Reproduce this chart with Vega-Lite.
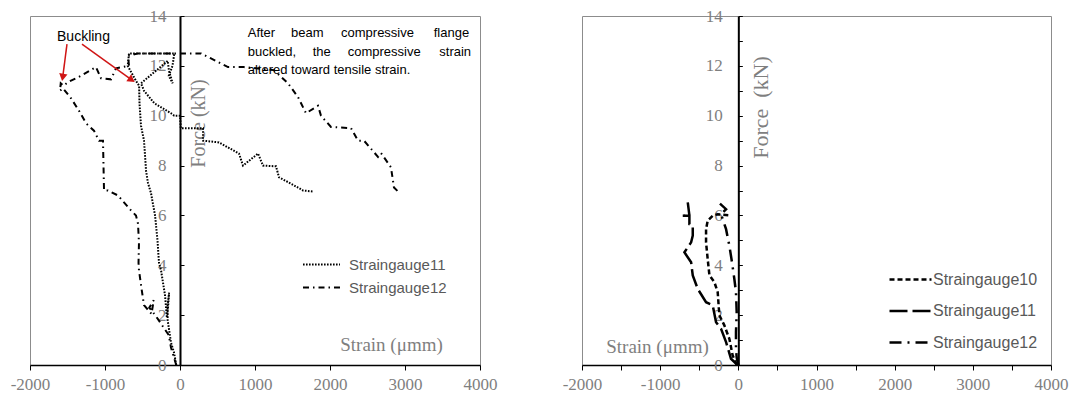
{
  "$schema": "https://vega.github.io/schema/vega-lite/v6.json",
  "background": "white",
  "padding": {"left": 9, "top": 6, "right": 5, "bottom": 5},
  "spacing": 63,
  "config": {
    "view": {"stroke": "#8c8c8c", "strokeWidth": 1},
    "axis": {"grid": false, "labelFont": "Liberation Serif", "labelColor": "#7f7f7f", "labelFontSize": 17, "titleFont": "Liberation Serif", "titleFontWeight": "normal", "titleColor": "#7f7f7f", "tickColor": "black", "domainColor": "black", "labelOverlap": false, "labelFlush": false, "labelBound": false},
    "legend": {"padding": 0, "labelFont": "Liberation Sans", "labelColor": "#595959", "symbolType": "stroke", "symbolStrokeColor": "black", "symbolFillColor": "transparent"}
  },
  "resolve": {"scale": {"strokeDash": "independent"}, "legend": {"strokeDash": "independent"}},
  "datasets": {
    "left": [
      {"gauge": "Straingauge11", "i": 0, "strain": -50, "force": 0},
      {"gauge": "Straingauge11", "i": 1, "strain": -80, "force": 0.5},
      {"gauge": "Straingauge11", "i": 2, "strain": -120, "force": 0.9},
      {"gauge": "Straingauge11", "i": 3, "strain": -145, "force": 1.4},
      {"gauge": "Straingauge11", "i": 4, "strain": -165, "force": 1.8},
      {"gauge": "Straingauge11", "i": 5, "strain": -165, "force": 2.4},
      {"gauge": "Straingauge11", "i": 6, "strain": -145, "force": 2.9},
      {"gauge": "Straingauge11", "i": 7, "strain": -160, "force": 2.3},
      {"gauge": "Straingauge11", "i": 8, "strain": -175, "force": 1.9},
      {"gauge": "Straingauge11", "i": 9, "strain": -200, "force": 2.8},
      {"gauge": "Straingauge11", "i": 10, "strain": -253, "force": 3.8},
      {"gauge": "Straingauge11", "i": 11, "strain": -280, "force": 4.1},
      {"gauge": "Straingauge11", "i": 12, "strain": -300, "force": 5.0},
      {"gauge": "Straingauge11", "i": 13, "strain": -333, "force": 6.0},
      {"gauge": "Straingauge11", "i": 14, "strain": -387, "force": 6.9},
      {"gauge": "Straingauge11", "i": 15, "strain": -427, "force": 7.3},
      {"gauge": "Straingauge11", "i": 16, "strain": -453, "force": 7.8},
      {"gauge": "Straingauge11", "i": 17, "strain": -480, "force": 9.0},
      {"gauge": "Straingauge11", "i": 18, "strain": -520, "force": 9.6},
      {"gauge": "Straingauge11", "i": 19, "strain": -540, "force": 10.5},
      {"gauge": "Straingauge11", "i": 20, "strain": -545, "force": 11.2},
      {"gauge": "Straingauge11", "i": 21, "strain": -587, "force": 11.4},
      {"gauge": "Straingauge11", "i": 22, "strain": -697, "force": 12.0},
      {"gauge": "Straingauge11", "i": 23, "strain": -680, "force": 12.5},
      {"gauge": "Straingauge11", "i": 24, "strain": -150, "force": 12.5},
      {"gauge": "Straingauge11", "i": 25, "strain": -76, "force": 12.5},
      {"gauge": "Straingauge11", "i": 26, "strain": -100, "force": 12.0},
      {"gauge": "Straingauge11", "i": 27, "strain": -150, "force": 11.6},
      {"gauge": "Straingauge11", "i": 28, "strain": -98, "force": 11.3},
      {"gauge": "Straingauge11", "i": 29, "strain": -147, "force": 11.8},
      {"gauge": "Straingauge11", "i": 30, "strain": -164, "force": 12.2},
      {"gauge": "Straingauge11", "i": 31, "strain": -520, "force": 11.3},
      {"gauge": "Straingauge11", "i": 32, "strain": -480, "force": 11.0},
      {"gauge": "Straingauge11", "i": 33, "strain": -342, "force": 10.5},
      {"gauge": "Straingauge11", "i": 34, "strain": -120, "force": 10.1},
      {"gauge": "Straingauge11", "i": 35, "strain": -76, "force": 10.0},
      {"gauge": "Straingauge11", "i": 36, "strain": 0, "force": 10.0},
      {"gauge": "Straingauge11", "i": 37, "strain": 10, "force": 9.5},
      {"gauge": "Straingauge11", "i": 38, "strain": 307, "force": 9.5},
      {"gauge": "Straingauge11", "i": 39, "strain": 307, "force": 9.0},
      {"gauge": "Straingauge11", "i": 40, "strain": 520, "force": 8.93},
      {"gauge": "Straingauge11", "i": 41, "strain": 787, "force": 8.48},
      {"gauge": "Straingauge11", "i": 42, "strain": 840, "force": 8.0},
      {"gauge": "Straingauge11", "i": 43, "strain": 1040, "force": 8.48},
      {"gauge": "Straingauge11", "i": 44, "strain": 1107, "force": 8.0},
      {"gauge": "Straingauge11", "i": 45, "strain": 1280, "force": 7.97},
      {"gauge": "Straingauge11", "i": 46, "strain": 1320, "force": 7.53},
      {"gauge": "Straingauge11", "i": 47, "strain": 1573, "force": 7.12},
      {"gauge": "Straingauge11", "i": 48, "strain": 1640, "force": 7.0},
      {"gauge": "Straingauge11", "i": 49, "strain": 1773, "force": 6.96},
      {"gauge": "Straingauge12", "i": 0, "strain": -50, "force": 0},
      {"gauge": "Straingauge12", "i": 1, "strain": -120, "force": 0.7},
      {"gauge": "Straingauge12", "i": 2, "strain": -150, "force": 1.2},
      {"gauge": "Straingauge12", "i": 3, "strain": -330, "force": 2.0},
      {"gauge": "Straingauge12", "i": 4, "strain": -410, "force": 2.3},
      {"gauge": "Straingauge12", "i": 5, "strain": -350, "force": 2.6},
      {"gauge": "Straingauge12", "i": 6, "strain": -380, "force": 2.05},
      {"gauge": "Straingauge12", "i": 7, "strain": -480, "force": 2.4},
      {"gauge": "Straingauge12", "i": 8, "strain": -510, "force": 3.0},
      {"gauge": "Straingauge12", "i": 9, "strain": -547, "force": 3.8},
      {"gauge": "Straingauge12", "i": 10, "strain": -553, "force": 4.1},
      {"gauge": "Straingauge12", "i": 11, "strain": -547, "force": 4.9},
      {"gauge": "Straingauge12", "i": 12, "strain": -560, "force": 5.67},
      {"gauge": "Straingauge12", "i": 13, "strain": -587, "force": 6.0},
      {"gauge": "Straingauge12", "i": 14, "strain": -653, "force": 6.2},
      {"gauge": "Straingauge12", "i": 15, "strain": -827, "force": 6.8},
      {"gauge": "Straingauge12", "i": 16, "strain": -960, "force": 7.0},
      {"gauge": "Straingauge12", "i": 17, "strain": -1013, "force": 7.0},
      {"gauge": "Straingauge12", "i": 18, "strain": -1027, "force": 9.0},
      {"gauge": "Straingauge12", "i": 19, "strain": -1080, "force": 9.0},
      {"gauge": "Straingauge12", "i": 20, "strain": -1147, "force": 9.4},
      {"gauge": "Straingauge12", "i": 21, "strain": -1253, "force": 9.7},
      {"gauge": "Straingauge12", "i": 22, "strain": -1347, "force": 10.2},
      {"gauge": "Straingauge12", "i": 23, "strain": -1453, "force": 10.7},
      {"gauge": "Straingauge12", "i": 24, "strain": -1560, "force": 11.1},
      {"gauge": "Straingauge12", "i": 25, "strain": -1600, "force": 11.0},
      {"gauge": "Straingauge12", "i": 26, "strain": -1590, "force": 11.3},
      {"gauge": "Straingauge12", "i": 27, "strain": -1550, "force": 11.2},
      {"gauge": "Straingauge12", "i": 28, "strain": -1493, "force": 11.35},
      {"gauge": "Straingauge12", "i": 29, "strain": -1320, "force": 11.6},
      {"gauge": "Straingauge12", "i": 30, "strain": -1120, "force": 11.95},
      {"gauge": "Straingauge12", "i": 31, "strain": -1053, "force": 11.5},
      {"gauge": "Straingauge12", "i": 32, "strain": -920, "force": 11.46},
      {"gauge": "Straingauge12", "i": 33, "strain": -853, "force": 11.9},
      {"gauge": "Straingauge12", "i": 34, "strain": -680, "force": 12.0},
      {"gauge": "Straingauge12", "i": 35, "strain": -693, "force": 12.4},
      {"gauge": "Straingauge12", "i": 36, "strain": -560, "force": 12.5},
      {"gauge": "Straingauge12", "i": 37, "strain": 0, "force": 12.5},
      {"gauge": "Straingauge12", "i": 38, "strain": 280, "force": 12.5},
      {"gauge": "Straingauge12", "i": 39, "strain": 413, "force": 12.3},
      {"gauge": "Straingauge12", "i": 40, "strain": 640, "force": 11.95},
      {"gauge": "Straingauge12", "i": 41, "strain": 853, "force": 11.95},
      {"gauge": "Straingauge12", "i": 42, "strain": 1253, "force": 11.83},
      {"gauge": "Straingauge12", "i": 43, "strain": 1440, "force": 11.3},
      {"gauge": "Straingauge12", "i": 44, "strain": 1573, "force": 10.75},
      {"gauge": "Straingauge12", "i": 45, "strain": 1680, "force": 10.1},
      {"gauge": "Straingauge12", "i": 46, "strain": 1840, "force": 10.4},
      {"gauge": "Straingauge12", "i": 47, "strain": 1880, "force": 10.0},
      {"gauge": "Straingauge12", "i": 48, "strain": 2013, "force": 9.55},
      {"gauge": "Straingauge12", "i": 49, "strain": 2280, "force": 9.5},
      {"gauge": "Straingauge12", "i": 50, "strain": 2373, "force": 9.0},
      {"gauge": "Straingauge12", "i": 51, "strain": 2453, "force": 9.0},
      {"gauge": "Straingauge12", "i": 52, "strain": 2640, "force": 8.35},
      {"gauge": "Straingauge12", "i": 53, "strain": 2680, "force": 8.5},
      {"gauge": "Straingauge12", "i": 54, "strain": 2813, "force": 7.93},
      {"gauge": "Straingauge12", "i": 55, "strain": 2853, "force": 7.12},
      {"gauge": "Straingauge12", "i": 56, "strain": 2907, "force": 6.96}
    ],
    "right": [
      {"gauge": "Straingauge10", "i": 0, "strain": -20, "force": 0},
      {"gauge": "Straingauge10", "i": 1, "strain": -73, "force": 0.39},
      {"gauge": "Straingauge10", "i": 2, "strain": -115, "force": 1.05},
      {"gauge": "Straingauge10", "i": 3, "strain": -179, "force": 1.59},
      {"gauge": "Straingauge10", "i": 4, "strain": -243, "force": 2.0},
      {"gauge": "Straingauge10", "i": 5, "strain": -264, "force": 2.92},
      {"gauge": "Straingauge10", "i": 6, "strain": -306, "force": 3.32},
      {"gauge": "Straingauge10", "i": 7, "strain": -370, "force": 3.6},
      {"gauge": "Straingauge10", "i": 8, "strain": -392, "force": 4.25},
      {"gauge": "Straingauge10", "i": 9, "strain": -413, "force": 4.92},
      {"gauge": "Straingauge10", "i": 10, "strain": -413, "force": 5.45},
      {"gauge": "Straingauge10", "i": 11, "strain": -392, "force": 5.79},
      {"gauge": "Straingauge10", "i": 12, "strain": -328, "force": 5.99},
      {"gauge": "Straingauge10", "i": 13, "strain": -264, "force": 6.05},
      {"gauge": "Straingauge10", "i": 14, "strain": -94, "force": 6.0},
      {"gauge": "Straingauge11", "i": 0, "strain": -10, "force": 0},
      {"gauge": "Straingauge11", "i": 1, "strain": -94, "force": 0.25},
      {"gauge": "Straingauge11", "i": 2, "strain": -157, "force": 0.92},
      {"gauge": "Straingauge11", "i": 3, "strain": -221, "force": 1.45},
      {"gauge": "Straingauge11", "i": 4, "strain": -285, "force": 1.72},
      {"gauge": "Straingauge11", "i": 5, "strain": -328, "force": 2.4},
      {"gauge": "Straingauge11", "i": 6, "strain": -413, "force": 2.52},
      {"gauge": "Straingauge11", "i": 7, "strain": -519, "force": 3.05},
      {"gauge": "Straingauge11", "i": 8, "strain": -583, "force": 3.59},
      {"gauge": "Straingauge11", "i": 9, "strain": -604, "force": 4.12},
      {"gauge": "Straingauge11", "i": 10, "strain": -690, "force": 4.52},
      {"gauge": "Straingauge11", "i": 11, "strain": -604, "force": 4.92},
      {"gauge": "Straingauge11", "i": 12, "strain": -583, "force": 5.19},
      {"gauge": "Straingauge11", "i": 13, "strain": -583, "force": 5.59},
      {"gauge": "Straingauge11", "i": 14, "strain": -626, "force": 5.65},
      {"gauge": "Straingauge11", "i": 15, "strain": -626, "force": 5.99},
      {"gauge": "Straingauge11", "i": 16, "strain": -711, "force": 5.99},
      {"gauge": "Straingauge11", "i": 17, "strain": -626, "force": 6.0},
      {"gauge": "Straingauge11", "i": 18, "strain": -647, "force": 6.52},
      {"gauge": "Straingauge12", "i": 0, "strain": 0, "force": 0},
      {"gauge": "Straingauge12", "i": 1, "strain": -21, "force": 0.3},
      {"gauge": "Straingauge12", "i": 2, "strain": -30, "force": 0.65},
      {"gauge": "Straingauge12", "i": 3, "strain": -30, "force": 1.32},
      {"gauge": "Straingauge12", "i": 4, "strain": -21, "force": 2.12},
      {"gauge": "Straingauge12", "i": 5, "strain": -30, "force": 2.92},
      {"gauge": "Straingauge12", "i": 6, "strain": -51, "force": 3.45},
      {"gauge": "Straingauge12", "i": 7, "strain": -81, "force": 4.12},
      {"gauge": "Straingauge12", "i": 8, "strain": -115, "force": 4.79},
      {"gauge": "Straingauge12", "i": 9, "strain": -157, "force": 5.45},
      {"gauge": "Straingauge12", "i": 10, "strain": -221, "force": 6.05},
      {"gauge": "Straingauge12", "i": 11, "strain": -157, "force": 6.25},
      {"gauge": "Straingauge12", "i": 12, "strain": -251, "force": 6.52}
    ],
    "notes": [
      {"group": "buckling", "text": "Buckling", "strain": -1287, "force": 13.0},
      {"group": "after", "text": "After", "strain": 903, "force": 13.14},
      {"group": "after", "text": "beam", "strain": 1480, "force": 13.14},
      {"group": "after", "text": "compressive", "strain": 2147, "force": 13.14},
      {"group": "after", "text": "flange", "strain": 3383, "force": 13.14},
      {"group": "after", "text": "buckled,", "strain": 903, "force": 12.39},
      {"group": "after", "text": "the", "strain": 1769, "force": 12.39},
      {"group": "after", "text": "compressive", "strain": 2236, "force": 12.39},
      {"group": "after", "text": "strain", "strain": 3457, "force": 12.39},
      {"group": "after", "text": "altered toward tensile strain.", "strain": 903, "force": 11.69}
    ],
    "arrows": [
      {"id": "a1", "strain": -1507, "force": 12.87, "strain2": -1564, "force2": 11.54},
      {"id": "a2", "strain": -1307, "force": 12.87, "strain2": -644, "force2": 11.44}
    ]
  },
  "hconcat": [
    {
      "width": 450,
      "height": 349,
      "layer": [
        {
          "data": {"name": "left"},
          "mark": {"type": "line", "color": "black", "strokeWidth": 2, "strokeCap": "butt"},
          "encoding": {
            "x": {"field": "strain", "type": "quantitative", "scale": {"domain": [-2000, 4000], "nice": false, "zero": false},
              "axis": {"values": [-2000, -1500, -1000, -500, 0, 500, 1000, 1500, 2000, 2500, 3000, 3500, 4000], "labelExpr": "datum.value % 1000 == 0 ? datum.value + '' : ''", "tickSize": 5, "domainWidth": 1.5, "labelPadding": 6, "title": "Strain (μmm)", "titleFontSize": 19, "titleX": 361, "titleY": -21, "titleBaseline": "middle", "titleAlign": "center"}},
            "y": {"field": "force", "type": "quantitative", "scale": {"domain": [0, 14], "nice": false},
              "axis": {"orient": "left", "offset": -150, "values": [0, 1, 2, 3, 4, 5, 6, 7, 8, 9, 10, 11, 12, 13, 14], "labelExpr": "datum.value % 2 == 0 ? datum.value + '' : ''", "tickSize": -4, "labelPadding": 18, "domainWidth": 2, "title": "Force (kN)", "titleFontSize": 20, "titleX": 18, "titleY": 107, "titleAngle": -90, "titleBaseline": "middle", "titleAlign": "center"}},
            "strokeDash": {"field": "gauge", "type": "nominal", "scale": {"domain": ["Straingauge11", "Straingauge12"], "range": [[1.6, 1.4], [6, 4, 1.5, 4]]},
              "legend": {"orient": "none", "legendX": 277, "legendY": 234, "rowPadding": 0, "title": null, "symbolType": "M-1.37,0H1.37", "symbolSize": 729, "symbolStrokeWidth": 2, "labelFontSize": 15, "labelOffset": 13}},
            "order": {"field": "i", "type": "quantitative"}
          }
        },
        {
          "data": {"name": "arrows"},
          "mark": {"type": "rule", "color": "#d01515", "strokeWidth": 1.5},
          "encoding": {
            "x": {"field": "strain", "type": "quantitative"},
            "y": {"field": "force", "type": "quantitative"},
            "x2": {"field": "strain2"},
            "y2": {"field": "force2"}
          }
        },
        {
          "data": {"name": "arrows"},
          "transform": [{"filter": "datum.id == 'a1'"}],
          "mark": {"type": "point", "shape": "triangle-down", "filled": true, "color": "#d01515", "size": 70, "angle": 10, "opacity": 1},
          "encoding": {
            "x": {"field": "strain2", "type": "quantitative"},
            "y": {"field": "force2", "type": "quantitative"}
          }
        },
        {
          "data": {"name": "arrows"},
          "transform": [{"filter": "datum.id == 'a2'"}],
          "mark": {"type": "point", "shape": "triangle-down", "filled": true, "color": "#d01515", "size": 70, "angle": -55, "opacity": 1},
          "encoding": {
            "x": {"field": "strain2", "type": "quantitative"},
            "y": {"field": "force2", "type": "quantitative"}
          }
        },
        {
          "data": {"name": "notes"},
          "transform": [{"filter": "datum.group == 'buckling'"}],
          "mark": {"type": "text", "font": "Liberation Sans", "fontSize": 14, "color": "black", "align": "center", "baseline": "alphabetic"},
          "encoding": {
            "x": {"field": "strain", "type": "quantitative"},
            "y": {"field": "force", "type": "quantitative"},
            "text": {"field": "text"}
          }
        },
        {
          "data": {"name": "notes"},
          "transform": [{"filter": "datum.group == 'after'"}],
          "mark": {"type": "text", "font": "Liberation Sans", "fontSize": 13, "color": "black", "align": "left", "baseline": "alphabetic"},
          "encoding": {
            "x": {"field": "strain", "type": "quantitative"},
            "y": {"field": "force", "type": "quantitative"},
            "text": {"field": "text"}
          }
        }
      ]
    },
    {
      "width": 469,
      "height": 349,
      "data": {"name": "right"},
      "mark": {"type": "line", "color": "black", "strokeWidth": 2.5, "strokeCap": "butt"},
      "encoding": {
        "x": {"field": "strain", "type": "quantitative", "scale": {"domain": [-2000, 4000], "nice": false, "zero": false},
          "axis": {"values": [-2000, -1500, -1000, -500, 0, 500, 1000, 1500, 2000, 2500, 3000, 3500, 4000], "labelExpr": "datum.value % 1000 == 0 ? datum.value + '' : ''", "tickSize": 5, "domainWidth": 1.5, "labelPadding": 6, "title": "Strain (μmm)", "titleFontSize": 19, "titleX": 75, "titleY": -19, "titleBaseline": "middle", "titleAlign": "center"}},
        "y": {"field": "force", "type": "quantitative", "scale": {"domain": [0, 14], "nice": false},
          "axis": {"orient": "left", "offset": -156.33, "values": [0, 1, 2, 3, 4, 5, 6, 7, 8, 9, 10, 11, 12, 13, 14], "labelExpr": "datum.value % 2 == 0 ? datum.value + '' : ''", "tickSize": -4, "labelPadding": 20, "domainWidth": 2, "title": "Force\u00a0\u00a0(kN)", "titleFontSize": 22, "titleX": 22, "titleY": 91, "titleAngle": -90, "titleBaseline": "middle", "titleAlign": "center"}},
        "strokeDash": {"field": "gauge", "type": "nominal", "scale": {"domain": ["Straingauge10", "Straingauge11", "Straingauge12"], "range": [[5, 3], [18, 5], [12, 6, 2, 6]]},
          "legend": {"orient": "none", "legendX": 306, "legendY": 241, "rowPadding": 0.5, "title": null, "symbolSize": 1764, "symbolStrokeWidth": 2.5, "labelFontSize": 16, "labelOffset": 0}},
        "order": {"field": "i", "type": "quantitative"}
      }
    }
  ]
}
